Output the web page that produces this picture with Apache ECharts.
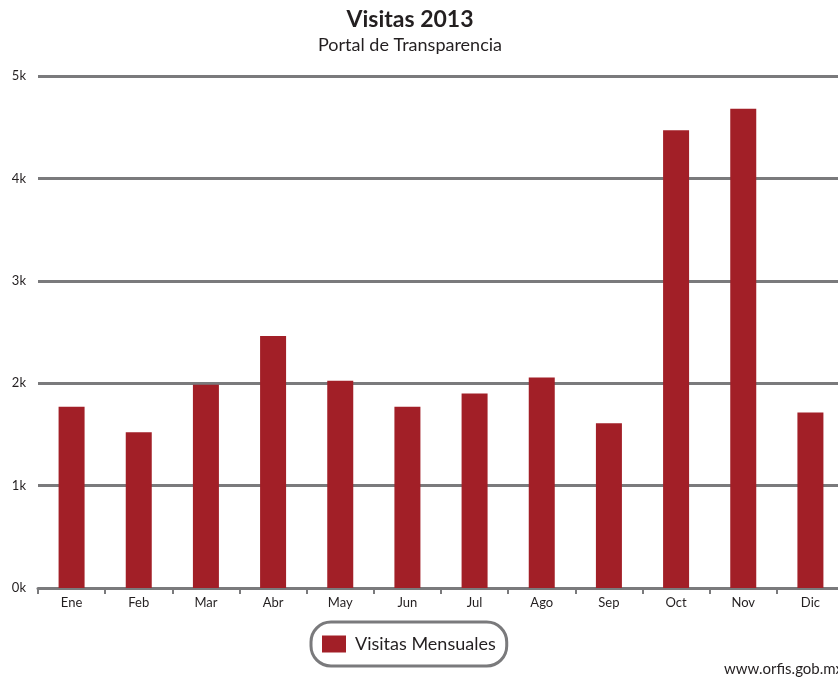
<!DOCTYPE html>
<html>
<head>
<meta charset="utf-8">
<script src="https://cdn.jsdelivr.net/npm/echarts@6/dist/echarts.min.js"></script>
<style>
  html, body { margin: 0; padding: 0; background: #fff; }
  #chart { width: 838px; height: 679px; }
</style>
</head>
<body>
<div id="chart"></div>
<script>
const months = ['Ene', 'Feb', 'Mar', 'Abr', 'May', 'Jun', 'Jul', 'Ago', 'Sep', 'Oct', 'Nov', 'Dic']
const visitas = [1770, 1520, 1985, 2460, 2025, 1770, 1900, 2055, 1610, 4470, 4680, 1715]
const seriesName = 'Visitas Mensuales'

const chart = echarts.init(document.getElementById('chart'))
const font = 'Lato'
const gray = '#7a7a7c'

const option = {
  textStyle: { fontFamily: font },
  title: {
    text: 'Visitas 2013',
    subtext: 'Portal de Transparencia',
    left: 405,
    top: 3,
    textAlign: 'center',
    itemGap: 5,
    textStyle: { fontFamily: font, fontSize: 23, fontWeight: 'bold', color: '#231f20' },
    subtextStyle: { fontFamily: font, fontSize: 18, color: '#231f20' }
  },
  legend: {
    data: [seriesName],
    left: 311,
    top: 622,
    padding: [13, 11, 13, 11],
    borderColor: gray,
    borderWidth: 3,
    borderRadius: 20,
    itemWidth: 24,
    itemHeight: 17,
    icon: 'rect',
    textStyle: { fontFamily: font, fontSize: 18, color: '#231f20', padding: [0, 0, 0, 4] }
  },
  grid: {
    left: 38,
    width: 806,
    top: 76,
    bottom: 91,
    containLabel: false,
    outerBoundsMode: 'none'
  },
  xAxis: {
    type: 'category',
    data: months,
    axisLine: { lineStyle: { color: gray, width: 3 } },
    axisTick: { show: true, length: 6, lineStyle: { color: gray, width: 2 } },
    axisLabel: { fontFamily: font, fontSize: 13, color: '#231f20', margin: 8 }
  },
  yAxis: {
    type: 'value',
    min: 0,
    max: 5000,
    interval: 1000,
    axisLine: { show: false },
    axisTick: { show: false },
    axisLabel: {
      fontFamily: font,
      fontSize: 13,
      color: '#231f20',
      margin: 12,
      formatter: value => (value / 1000) + 'k'
    },
    splitLine: { lineStyle: { color: gray, width: 3 } }
  },
  series: [
    {
      name: seriesName,
      type: 'bar',
      data: visitas,
      barWidth: 26,
      itemStyle: { color: '#a21f27' }
    }
  ],
  graphic: [
    {
      type: 'text',
      left: 724,
      top: 662,
      style: { text: 'www.orfis.gob.mx', fontFamily: font, fontSize: 15, fill: '#231f20' }
    }
  ]
}

chart.setOption(option)
</script>
</body>
</html>
